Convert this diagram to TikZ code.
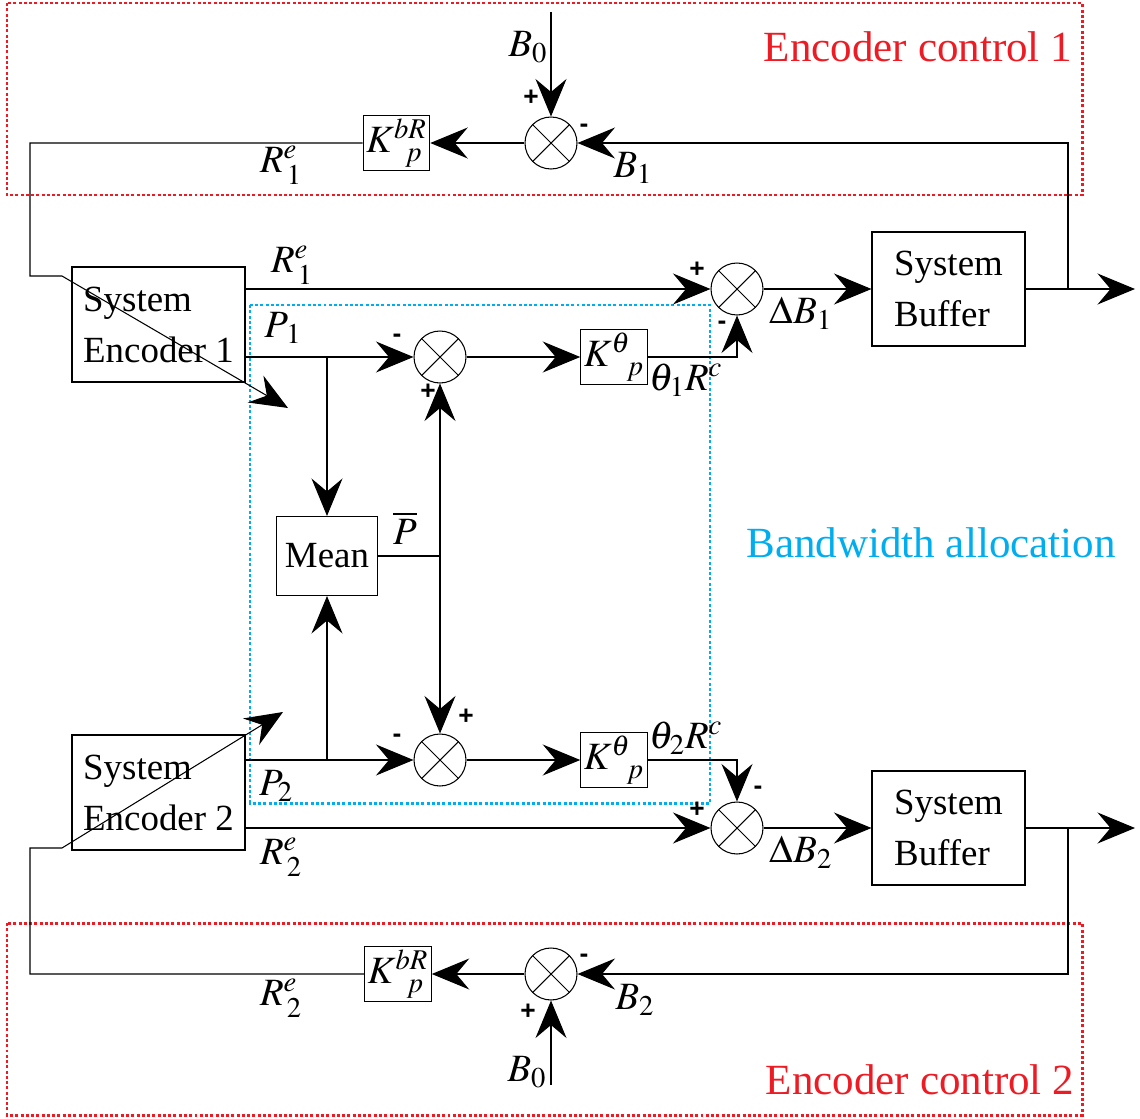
\documentclass[tikz,border=0pt]{standalone}
\usepackage{mathptmx}
\usepackage{fontspec}
\setmainfont{Liberation Serif}
\setsansfont{Liberation Sans}
\usetikzlibrary{arrows.meta}
\definecolor{ctrlred}{RGB}{237,28,36}
\definecolor{bwblue}{RGB}{0,174,239}
\begin{document}
\begin{tikzpicture}[x=0.02cm,y=-0.02cm,line width=0.6pt,
    >={Stealth[length=0.75cm,width=0.62cm,inset=0.26cm]},
    blk/.style={draw,inner sep=0pt,align=left,font=\fontsize{21}{29}\selectfont},
    kbox/.style={draw,inner sep=1pt,minimum width=1.33cm,minimum height=1.1cm,font=\fontsize{22}{22}\selectfont},
    sumj/.style={circle,draw,minimum size=1.04cm,inner sep=0pt,
      path picture={\draw (path picture bounding box.north west) -- (path picture bounding box.south east)
                          (path picture bounding box.north east) -- (path picture bounding box.south west);}},
    lbl/.style={inner sep=0pt,font=\fontsize{22}{22}\selectfont},
    sgn/.style={inner sep=0pt,font=\fontsize{15}{15}\sffamily\bfseries},
    grp/.style={line width=1.7pt,dash pattern=on 1.7pt off 1.3pt},
    grptext/.style={inner sep=0pt,font=\fontsize{24.5}{24.5}\selectfont}]
    \useasboundingbox (0,0) rectangle (1140,1119);

    \draw[grp,ctrlred] (7,3) rectangle (1082,195);
    \draw[grp,ctrlred] (7,923) rectangle (1082,1115);
    \draw[grp,bwblue] (250,305) rectangle (710,803);
    \node[grptext,text=ctrlred] (ctl1) at (918,47) {Encoder control 1};
    \node[grptext,text=ctrlred] (ctl2) at (920,1080) {Encoder control 2};
    \node[grptext,text=bwblue] (bwa) at (931,543) {Bandwidth allocation};

    % blocks
    \node[blk,minimum width=3.46cm,minimum height=2.3cm] (enc1) at (158.5,324.5) {System\\Encoder 1};
    \node[blk,minimum width=3.46cm,minimum height=2.3cm] (enc2) at (158.5,792.5) {System\\Encoder 2};
    \node[blk,minimum width=3.06cm,minimum height=2.28cm] (buf1) at (948.5,289) {System\\Buffer};
    \node[blk,minimum width=3.06cm,minimum height=2.28cm] (buf2) at (948.5,828) {System\\Buffer};
    \node[blk,minimum width=2.02cm,minimum height=1.58cm] (mean) at (327,556) {Mean};
    \node[kbox] (kb1) at (396.5,143) {$K^{bR}_{\hphantom{b}p}$};
    \node[kbox] (kb2) at (398,974) {$K^{bR}_{\hphantom{b}p}$};
    \node[kbox] (kt1) at (614,357) {$K^{\theta}_{\hphantom{\theta}p}$};
    \node[kbox] (kt2) at (614,760) {$K^{\theta}_{\hphantom{\theta}p}$};
    \node[sumj] (s1) at (551,143) {};
    \node[sumj] (s2) at (737,289) {};
    \node[sumj] (s3) at (440,357) {};
    \node[sumj] (s4) at (440,760) {};
    \node[sumj] (s5) at (737,828) {};
    \node[sumj] (s6) at (551,974) {};

    % labels
    \node[lbl] (lb0a) at (528,47) {$B_{0}$};
    \node[lbl] (lb1) at (633,168) {$B_{1}$};
    \node[lbl] (lre1a) at (281,165) {$R^{e}_{\,1}$};
    \node[lbl] (lre1b) at (292,265) {$R^{e}_{\,1}$};
    \node[lbl] (lp1) at (283,328) {$P_{\,1}$};
    \node[lbl] (lth1) at (686,380) {$\theta_{1}R^{c}$};
    \node[lbl] (ldb1) at (801,313) {$\Delta B_{1}$};
    \node[lbl] (lpbar) at (405,528) {$\overline{P}$};
    \node[lbl] (lp2) at (276,786) {$P_{2}$};
    \node[lbl] (lth2) at (686,738) {$\theta_{2}R^{c}$};
    \node[lbl] (lre2a) at (281,857) {$R^{e}_{\,2}$};
    \node[lbl] (ldb2) at (801,852) {$\Delta B_{2}$};
    \node[lbl] (lb2) at (635,1000) {$B_{2}$};
    \node[lbl] (lre2b) at (281,998) {$R^{e}_{\,2}$};
    \node[lbl] (lb0b) at (527,1072) {$B_{0}$};

    % signs
    \node[sgn] (g1) at (531,98) {+};
    \node[sgn] (g2) at (584,128) {-};
    \node[sgn] (g3) at (697,270) {+};
    \node[sgn] (g4) at (722,325) {-};
    \node[sgn] (g5) at (397,338) {-};
    \node[sgn] (g6) at (428,392) {+};
    \node[sgn] (g7) at (466,717) {+};
    \node[sgn] (g8) at (397,738) {-};
    \node[sgn] (g9) at (697,810) {+};
    \node[sgn] (g10) at (758,790) {-};
    \node[sgn] (g11) at (584,958) {-};
    \node[sgn] (g12) at (528,1012) {+};

    % points
    \coordinate (b0t) at (551,12);
    \coordinate (b0b) at (551,1085);
    \coordinate (fb1) at (1068,289);
    \coordinate (fb2) at (1068,828);
    \coordinate (out1) at (1135,289);
    \coordinate (out2) at (1135,828);
    \coordinate (l1) at (30,276);
    \coordinate (e1in) at (62,276);
    \coordinate (e1tip) at (288,408);
    \coordinate (l2) at (30,848);
    \coordinate (e2in) at (62,848);
    \coordinate (e2tip) at (283,712);
    \coordinate (br1) at (327,357);
    \coordinate (br2) at (327,760);
    \coordinate (pb) at (440,556);

    % encoder control 1
    \draw[->] (b0t) -- (s1);
    \draw[->] (fb1) |- (s1);
    \draw[->] (s1) -- (kb1);
    \draw[->] (kb1) -| (l1) -- (e1in) -- (e1tip);

    % encoder control 2
    \draw[->] (b0b) -- (s6);
    \draw[->] (fb2) |- (s6);
    \draw[->] (s6) -- (kb2);
    \draw[->] (kb2) -| (l2) -- (e2in) -- (e2tip);

    % main paths
    \draw[->] (enc1.east |- s2) -- (s2);
    \draw[->] (s2) -- (buf1);
    \draw[->] (buf1) -- (out1);
    \draw[->] (enc2.east |- s5) -- (s5);
    \draw[->] (s5) -- (buf2);
    \draw[->] (buf2) -- (out2);

    % bandwidth allocation
    \draw[->] (enc1.east |- s3) -- (s3);
    \draw[->] (s3) -- (kt1);
    \draw[->] (kt1) -| (s2);
    \draw[->] (br1) -- (mean);
    \draw[->] (enc2.east |- s4) -- (s4);
    \draw[->] (s4) -- (kt2);
    \draw[->] (kt2) -| (s5);
    \draw[->] (br2) -- (mean);
    \draw (mean) -- (pb);
    \draw[->] (pb) -- (s3);
    \draw[->] (pb) -- (s4);
\end{tikzpicture}
\end{document}
